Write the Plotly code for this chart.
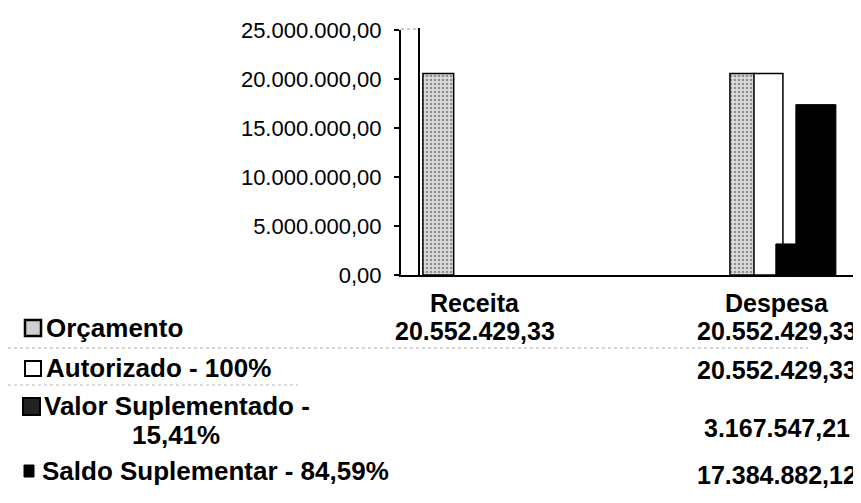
import plotly.graph_objects as go

W, H = 861, 503
categories = ["Receita", "Despesa"]
series_names = ["Orçamento", "Autorizado - 100%", "Valor Suplementado - 15,41%", "Saldo Suplementar - 84,59%"]
orcamento = [20552429.33, 20552429.33]
autorizado = [None, 20552429.33]
valor_suplementado = [None, 3167547.21]
saldo_suplementar = [None, 17384882.12]
tick_vals = [0, 5000000, 10000000, 15000000, 20000000, 25000000]
tick_text = ["0,00", "5.000.000,00", "10.000.000,00", "15.000.000,00", "20.000.000,00", "25.000.000,00"]

# plot area in pixels
L, R, T, B = 393, 855, 22, 267
FONT = "Liberation Sans, Arial, sans-serif"


def fmt_br(v):
    s = f"{v:,.2f}"
    return s.replace(",", "X").replace(".", ",").replace("X", ".")


def py(ypix):
    return (B - ypix) / (B - T)


def px(xpix):
    return (xpix - L) / (R - L)


fig = go.Figure()
fig.add_trace(go.Bar(x=categories, y=orcamento, name=series_names[0],
                     width=[0.10, 0.08], offset=[-0.169, -0.172],
                     marker=dict(color="#cfcfcf", line=dict(color="black", width=1.5),
                                 pattern=dict(shape=".", fgcolor="#444", bgcolor="#dcdcdc", size=4, solidity=0.35))))
fig.add_trace(go.Bar(x=categories, y=autorizado, name=series_names[1],
                     width=0.094, offset=-0.094,
                     marker=dict(color="white", line=dict(color="black", width=1.5))))
fig.add_trace(go.Bar(x=categories, y=valor_suplementado, name=series_names[2],
                     width=0.065, offset=-0.023,
                     marker=dict(color="black", line=dict(color="black", width=1))))
fig.add_trace(go.Bar(x=categories, y=saldo_suplementar, name=series_names[3],
                     width=0.13, offset=0.042,
                     marker=dict(color="black", line=dict(color="black", width=1))))

fig.update_layout(
    width=W, height=H, barmode="overlay", showlegend=False,
    paper_bgcolor="white", plot_bgcolor="white",
    margin=dict(l=L, r=W - R, t=T, b=H - B, pad=0),
    font=dict(family=FONT, color="black"),
    xaxis=dict(range=[-0.24, 1.26], showticklabels=False, ticks="", showgrid=False,
               showline=True, linecolor="black", linewidth=2, zeroline=False),
    yaxis=dict(range=[0, 25000000], tickvals=tick_vals, ticktext=tick_text,
               ticks="outside", ticklen=5, tickcolor="black", tickwidth=1.5,
               ticklabelstandoff=8,
               showgrid=False, showline=True, linecolor="black", linewidth=2, zeroline=False,
               tickfont=dict(size=22, family=FONT, color="black")),
)

# second vertical border line (plot frame fragment)
fig.add_shape(type="line", xref="paper", yref="paper", x0=px(411), x1=px(411), y0=0, y1=py(20),
              line=dict(color="black", width=2))
fig.add_shape(type="line", xref="paper", yref="paper", x0=0, x1=px(411), y0=py(21), y1=py(21),
              line=dict(color="#999", width=1, dash="dot"))

# data table
col_x = {"Receita": 467, "Despesa": 769}
bold = dict(family=FONT, size=25, color="black")
label_font = dict(family=FONT, size=26, color="black")
for c in categories:
    fig.add_annotation(x=px(col_x[c]), y=py(295), xref="paper", yref="paper", text=f"<b>{c}</b>",
                       showarrow=False, font=bold, xanchor="center", yanchor="middle", borderpad=0)

row_y = [323, 362, 420, 467]
label_y = [[320], [360], [398], [463]]
label_x = [37, 37, 35, 33]
label_lines = [["Orçamento"], ["Autorizado - 100%"], ["Valor Suplementado -", "15,41%"], ["Saldo Suplementar - 84,59%"]]
series_vals = [orcamento, autorizado, valor_suplementado, saldo_suplementar]

for i, lines in enumerate(label_lines):
    if len(lines) == 1:
        fig.add_annotation(x=px(label_x[i]), y=py(label_y[i][0]), xref="paper", yref="paper",
                           text=f"<b>{lines[0]}</b>", showarrow=False, font=label_font,
                           xanchor="left", yanchor="middle", borderpad=0)
    else:
        fig.add_annotation(x=px(label_x[i]), y=py(label_y[i][0]), xref="paper", yref="paper",
                           text=f"<b>{lines[0]}</b>", showarrow=False, font=label_font,
                           xanchor="left", yanchor="middle", borderpad=0)
        fig.add_annotation(x=px(168), y=py(label_y[i][0] + 29), xref="paper", yref="paper",
                           text=f"<b>{lines[1]}</b>", showarrow=False, font=label_font,
                           xanchor="center", yanchor="middle", borderpad=0)
    for j, c in enumerate(categories):
        v = series_vals[i][j]
        if v is not None:
            fig.add_annotation(x=px(col_x[c]), y=py(row_y[i]), xref="paper", yref="paper",
                               text=f"<b>{fmt_br(v)}</b>", showarrow=False, font=bold,
                               xanchor="center", yanchor="middle", borderpad=0)

# legend keys
keys = [
    dict(x0=17, x1=33, y0=312, y1=328, fill="#cfcfcf", w=2.5),
    dict(x0=17, x1=33, y0=353, y1=368, fill="white", w=2),
    dict(x0=15, x1=32, y0=390, y1=407, fill="#222", w=2),
    dict(x0=16, x1=26, y0=457, y1=469, fill="black", w=1),
]
for k in keys:
    fig.add_shape(type="rect", xref="paper", yref="paper", x0=px(k["x0"]), x1=px(k["x1"]),
                  y0=py(k["y0"]), y1=py(k["y1"]), fillcolor=k["fill"],
                  line=dict(color="black", width=k["w"]))

# faint table separators
fig.add_shape(type="line", xref="paper", yref="paper", x0=px(0), x1=px(800), y0=py(340), y1=py(340),
              line=dict(color="#aaa", width=1, dash="dot"))
fig.add_shape(type="line", xref="paper", yref="paper", x0=px(0), x1=px(290), y0=py(377), y1=py(377),
              line=dict(color="#bbb", width=1, dash="dot"))

fig.write_html("out.html")
